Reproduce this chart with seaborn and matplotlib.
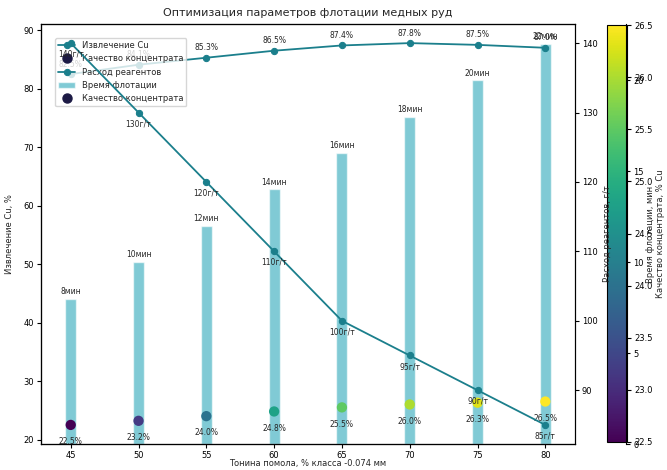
import matplotlib as mpl
import matplotlib.pyplot as plt
from matplotlib.lines import Line2D
import seaborn as sns

# data
fineness = [45, 50, 55, 60, 65, 70, 75, 80]          # % класса -0.074 мм
recovery = [82.5, 84.1, 85.3, 86.5, 87.4, 87.8, 87.5, 87.0]   # Извлечение Cu, %
quality = [22.5, 23.2, 24.0, 24.8, 25.5, 26.0, 26.3, 26.5]    # % Cu
reagent = [140, 130, 120, 110, 100, 95, 90, 85]      # г/т
flot_time = [8, 10, 12, 14, 16, 18, 20, 22]          # мин

sns.set_style("ticks", {"axes.edgecolor": "black", "xtick.color": "black",
                        "ytick.color": "black", "axes.linewidth": 0.9})
plt.rcParams["font.family"] = ["DejaVu Sans"]

line_color = "#1b7f8c"
bar_color = "#2ba8ba"

fig = plt.figure(figsize=(6.67, 4.70), dpi=100)
ax1 = fig.add_axes([0.0615, 0.0553, 0.8006, 0.8936])
ax2 = ax1.twinx()
ax3 = ax1.twinx()
cax = fig.add_axes([0.910, 0.0596, 0.030, 0.887])

# stacking: bars at the bottom, reagent line on top
ax3.set_zorder(1)
ax1.set_zorder(2)
ax2.set_zorder(3)
ax1.patch.set_visible(False)
ax2.patch.set_visible(False)

# flotation time bars
bars = ax3.bar(fineness, flot_time, width=0.8, color=bar_color, alpha=0.6,
               label="Время флотации")
ax3.set_ylim(0, max(flot_time) * 1.05)
ax3.spines["right"].set_position(("outward", 37))
for x, t in zip(fineness, flot_time):
    ax3.annotate(f"{t}мин", (x, t), xytext=(0, 2), textcoords="offset points",
                 ha="center", va="bottom", fontsize=5.5)

# recovery line + concentrate quality dots
sns.lineplot(x=fineness, y=recovery, ax=ax1, color=line_color, marker="o",
             markersize=4.5, mec=line_color, linewidth=1.3, legend=False)
h_rec = ax1.lines[0]
sns.scatterplot(x=fineness, y=quality, hue=quality, palette="viridis",
                hue_norm=(22.5, 26.5), s=55, linewidth=0, ax=ax1, legend=False)

for x, y in zip(fineness, recovery):
    ax1.annotate(f"{y:.1f}%", (x, y), xytext=(0, 4), textcoords="offset points",
                 ha="center", va="bottom", fontsize=5.5)
for x, q in zip(fineness, quality):
    ax1.annotate(f"{q:.1f}%", (x, q), xytext=(0, -12), textcoords="offset points",
                 ha="center", va="center", fontsize=5.5)

# reagent consumption line
sns.lineplot(x=fineness, y=reagent, ax=ax2, color=line_color, marker="o",
             markersize=4.5, mec=line_color, linewidth=1.3, legend=False)
h_reag = ax2.lines[0]
for x, r in zip(fineness, reagent):
    ax2.annotate(f"{r}г/т", (x, r), xytext=(0, -8), textcoords="offset points",
                 ha="center", va="center", fontsize=5.5)

ax1.set_xticks(fineness)
for ax in (ax1, ax2, ax3):
    ax.tick_params(labelsize=6, length=3, width=0.8, pad=2)

ax1.set_title("Оптимизация параметров флотации медных руд", fontsize=8)
ax1.set_xlabel("Тонина помола, % класса -0.074 мм", fontsize=6)
ax1.xaxis.set_label_coords(0.5, -0.035)
ax1.set_ylabel("Извлечение Cu, %", fontsize=6)
ax1.yaxis.set_label_coords(-0.05, 0.5)
ax2.set_ylabel("Расход реагентов, г/т", fontsize=6)
ax2.yaxis.set_label_coords(1.052, 0.5)
ax3.set_ylabel("Время флотации, мин", fontsize=6)
ax3.yaxis.set_label_coords(1.133, 0.5)

# colour bar for quality
sm = mpl.cm.ScalarMappable(norm=mpl.colors.Normalize(22.5, 26.5), cmap="viridis")
cb = fig.colorbar(sm, cax=cax)
cb.ax.tick_params(labelsize=6, length=3, pad=2)
cb.set_label("Качество концентрата, % Cu", fontsize=6)
cax.yaxis.set_label_coords(2.45, 0.5)

dot = Line2D([], [], marker="o", linestyle="none", markersize=6.5,
             markerfacecolor="#1c1a45", markeredgecolor="#1c1a45")
ax1.legend([h_rec, dot, h_reag, bars, dot],
           ["Извлечение Cu", "Качество концентрата", "Расход реагентов",
            "Время флотации", "Качество концентрата"],
           loc="upper left", bbox_to_anchor=(0.026, 0.967), borderaxespad=0,
           fontsize=6)

fig.savefig("out.png", dpi=100)
